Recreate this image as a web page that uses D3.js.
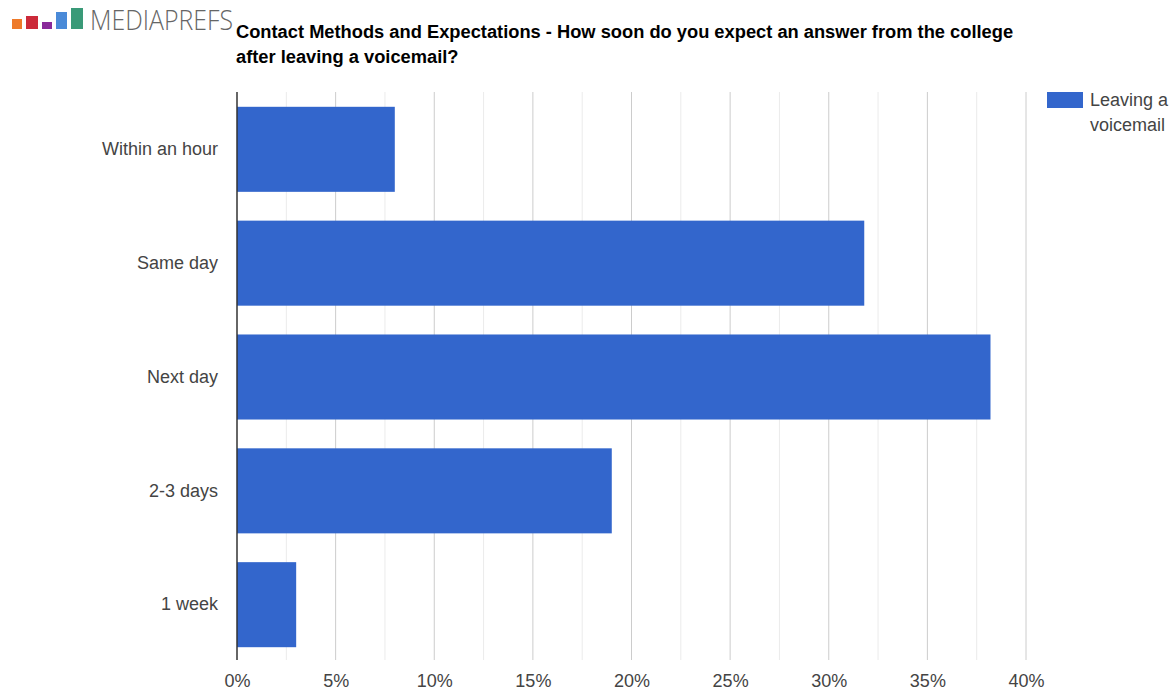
<!DOCTYPE html>
<html>
<head>
<meta charset="utf-8">
<script src="https://cdn.jsdelivr.net/npm/d3@7"></script>
<style>
  html, body { margin: 0; padding: 0; background: #fff; }
  svg { display: block; font-family: "Liberation Sans", Arial, sans-serif; }
</style>
</head>
<body>
<svg id="chart" width="1174" height="692"></svg>
<script>
// Response categories and share of respondents (%)
const categories = ["Within an hour", "Same day", "Next day", "2-3 days", "1 week"];
const values = [8.0, 31.8, 38.2, 19.0, 3.0];
const tickValues = [0, 5, 10, 15, 20, 25, 30, 35, 40];
const minorTicks = [2.5, 7.5, 12.5, 17.5, 22.5, 27.5, 32.5, 37.5];
const seriesName = ["Leaving a", "voicemail"];
const titleLines = [
  "Contact Methods and Expectations - How soon do you expect an answer from the college",
  "after leaving a voicemail?"
];
const logoBlocks = [
  { color: "#ee7a2a", h: 10, w: 10 },
  { color: "#cc2a3a", h: 13, w: 12 },
  { color: "#8a2a9a", h: 7, w: 10 },
  { color: "#4a8ad8", h: 17, w: 11 },
  { color: "#3a9a78", h: 21, w: 12 }
];

const svg = d3.select("#chart");
const margin = { left: 237, top: 92, right: 1026, bottom: 660 };

const x = d3.scaleLinear().domain([0, 40]).range([margin.left, margin.right]);
const y = d3.scaleBand().domain(categories).range([92, 662]).paddingInner(0.253).paddingOuter(0.13);

// Logo: coloured blocks and wordmark
let lx = 12;
const logo = svg.append("g");
logoBlocks.forEach(b => {
  logo.append("rect").attr("x", lx).attr("y", 29 - b.h).attr("width", b.w).attr("height", b.h).attr("fill", b.color);
  lx += b.w + 4;
});
logo.append("text").attr("x", 90).attr("y", 30).attr("font-size", 28).attr("fill", "#666")
  .attr("font-family", "'Open Sans', sans-serif").attr("font-weight", 300)
  .attr("textLength", 143).attr("lengthAdjust", "spacingAndGlyphs").text("MEDIAPREFS");

// Title
svg.append("g").selectAll("text").data(titleLines).join("text")
  .attr("x", 236).attr("y", (d, i) => 38 + i * 25)
  .attr("font-size", 18.3).attr("font-weight", "bold").attr("fill", "#000")
  .text(d => d);

// Gridlines: light minor lines at 2.5% steps, darker major lines at 5%
svg.append("g").selectAll("line").data(minorTicks).join("line")
  .attr("x1", d => x(d)).attr("x2", d => x(d))
  .attr("y1", margin.top).attr("y2", margin.bottom)
  .attr("stroke", "#ebebeb").attr("stroke-width", 1);
svg.append("g").selectAll("line").data(tickValues.slice(1)).join("line")
  .attr("x1", d => x(d)).attr("x2", d => x(d))
  .attr("y1", margin.top).attr("y2", margin.bottom)
  .attr("stroke", "#cccccc").attr("stroke-width", 1);

// Bars
svg.append("g").selectAll("rect").data(values).join("rect")
  .attr("x", x(0))
  .attr("y", (d, i) => y(categories[i]))
  .attr("width", d => x(d) - x(0))
  .attr("height", y.bandwidth())
  .attr("fill", "#3366cc");

// Baseline
svg.append("line").attr("x1", x(0)).attr("x2", x(0))
  .attr("y1", margin.top).attr("y2", margin.bottom)
  .attr("stroke", "#333").attr("stroke-width", 1.5);

// X axis labels
const xAxis = d3.axisBottom(x).tickValues(tickValues).tickFormat(d => d + "%").tickSize(0).tickPadding(0);
const xg = svg.append("g").attr("transform", `translate(0, 674)`).call(xAxis);
xg.select(".domain").remove();
xg.selectAll("text").attr("font-size", 18).attr("fill", "#444").attr("font-family", "'Liberation Sans', Arial, sans-serif");

// Y axis labels
const yAxis = d3.axisLeft(y).tickSize(0).tickPadding(19);
const yg = svg.append("g").attr("transform", `translate(${x(0)}, 0)`).call(yAxis);
yg.select(".domain").remove();
yg.selectAll("text").attr("font-size", 18).attr("fill", "#444").attr("font-family", "'Liberation Sans', Arial, sans-serif");

// Legend
const legend = svg.append("g");
legend.append("rect").attr("x", 1047).attr("y", 92).attr("width", 36).attr("height", 16).attr("fill", "#3366cc");
legend.selectAll("text").data(seriesName).join("text")
  .attr("x", 1090).attr("y", (d, i) => 106 + i * 25)
  .attr("font-size", 18).attr("fill", "#444").text(d => d);
</script>
</body>
</html>
